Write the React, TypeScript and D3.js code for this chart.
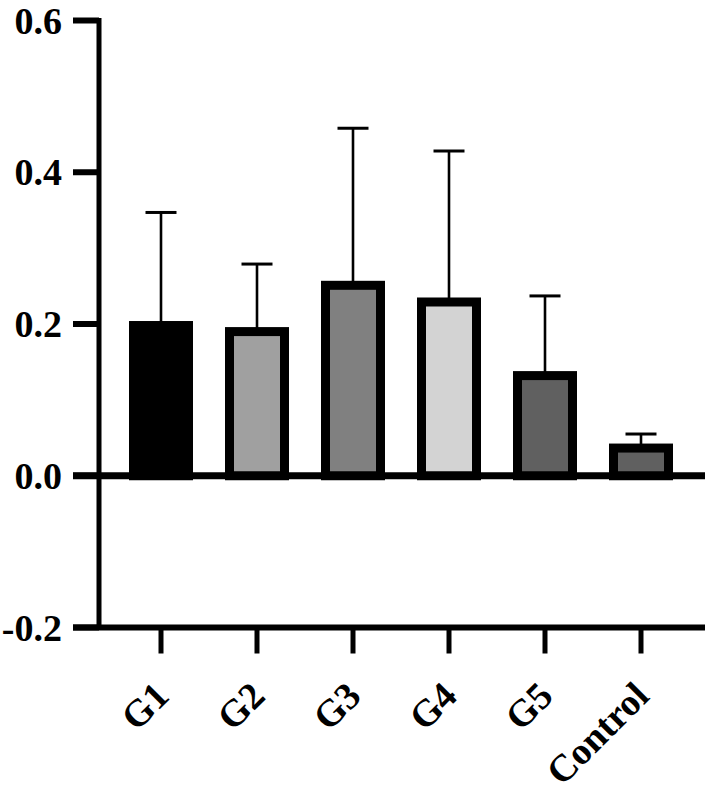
import * as d3 from 'd3'

const WIDTH = 711
const HEIGHT = 799

// data
const categories = ['G1', 'G2', 'G3', 'G4', 'G5', 'Control']
const means = [0.198, 0.19, 0.251, 0.229, 0.132, 0.0365]
const upperErrors = [0.347, 0.279, 0.458, 0.428, 0.237, 0.055]
const fills = ['#000000', '#a0a0a0', '#808080', '#d3d3d3', '#606060', '#606060']
const yTicks = [-0.2, 0.0, 0.2, 0.4, 0.6]

const FONT = '"Liberation Serif", "Times New Roman", serif'
const FONT_SIZE = 38
const AXIS_X = 99
const TICK_LEFT = 73
const RIGHT_END = 705
const BAR_W = 55
const BAR_STROKE = 9
const CAP_W = 31

export default function App() {
  const y = d3.scaleLinear().domain([-0.2, 0.6]).range([627.5, 20.5])
  const x = d3.scalePoint<string>().domain(categories).range([161, 641])
  const bottom = y(-0.2)
  const zero = y(0)

  return (
    <svg
      width={WIDTH}
      height={HEIGHT}
      style={{ position: 'absolute', left: 0, top: 0, background: '#fff' }}
    >
      {/* error bars (upper only) */}
      {categories.map((c, i) => {
        const cx = x(c)!
        return (
          <g key={'err' + c}>
            <line x1={cx} x2={cx} y1={y(means[i])} y2={y(upperErrors[i])} stroke="#000" strokeWidth={2.6} />
            <line x1={cx - CAP_W / 2} x2={cx + CAP_W / 2} y1={y(upperErrors[i])} y2={y(upperErrors[i])} stroke="#000" strokeWidth={3} />
          </g>
        )
      })}

      {/* bars */}
      {categories.map((c, i) => {
        const cx = x(c)!
        return (
          <rect
            key={'bar' + c}
            x={cx - BAR_W / 2}
            y={y(means[i])}
            width={BAR_W}
            height={zero - y(means[i])}
            fill={fills[i]}
            stroke="#000"
            strokeWidth={BAR_STROKE}
          />
        )
      })}

      {/* zero line */}
      <line x1={TICK_LEFT} x2={RIGHT_END} y1={zero} y2={zero} stroke="#000" strokeWidth={7} />

      {/* y axis */}
      <line x1={AXIS_X} x2={AXIS_X} y1={y(0.6) - 2.5} y2={bottom} stroke="#000" strokeWidth={5} />
      {yTicks.map(t => (
        <g key={'yt' + t}>
          <line x1={TICK_LEFT} x2={AXIS_X} y1={y(t)} y2={y(t)} stroke="#000" strokeWidth={6} />
          <text
            x={62}
            y={y(t) + 13}
            textAnchor="end"
            fontFamily={FONT}
            fontWeight="bold"
            fontSize={FONT_SIZE}
            fill="#000"
          >
            {d3.format('.1f')(t).replace('−', '-')}
          </text>
        </g>
      ))}

      {/* x axis */}
      <line x1={TICK_LEFT} x2={RIGHT_END} y1={bottom} y2={bottom} stroke="#000" strokeWidth={6} />
      {categories.map(c => {
        const cx = x(c)!
        return (
          <g key={'xt' + c}>
            <line x1={cx} x2={cx} y1={bottom} y2={bottom + 26} stroke="#000" strokeWidth={5} />
            <text
              transform={`translate(${cx + 10}, ${bottom + 70.5}) rotate(-45)`}
              textAnchor="end"
              fontFamily={FONT}
              fontWeight="bold"
              fontSize={FONT_SIZE}
              fill="#000"
            >
              {c}
            </text>
          </g>
        )
      })}
    </svg>
  )
}
